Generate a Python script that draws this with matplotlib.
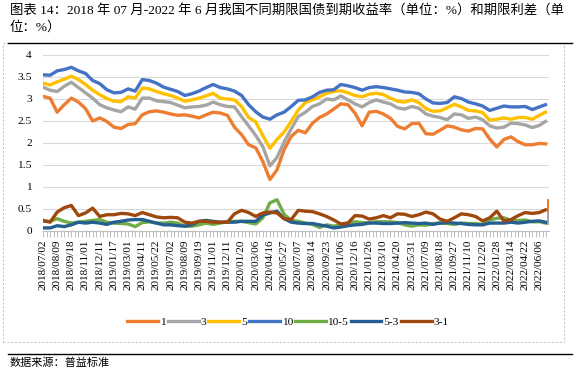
import matplotlib
matplotlib.use("Agg")
import matplotlib.pyplot as plt
from matplotlib.patches import Rectangle
from matplotlib.lines import Line2D

# ---------------------------------------------------------------------------
# data (trading-day index, yields and spreads in %)
DAYS = list(range(0, 981, 14)) + [992]

Y1 = [3.06, 3.02, 2.70, 2.87, 3.02, 2.93, 2.78, 2.50, 2.57, 2.49, 2.36, 2.33,
      2.42, 2.44, 2.64, 2.71, 2.73, 2.70, 2.66, 2.63, 2.64, 2.61, 2.57, 2.64, 2.70,
      2.68, 2.63, 2.36, 2.19, 1.96, 1.89, 1.58, 1.17, 1.39, 1.85, 2.15, 2.29,
      2.23, 2.45, 2.58, 2.66, 2.77, 2.89, 2.87, 2.68, 2.39, 2.70, 2.72, 2.66,
      2.56, 2.38, 2.32, 2.44, 2.45, 2.21, 2.20, 2.29, 2.39, 2.36, 2.30, 2.27,
      2.33, 2.32, 2.09, 1.91, 2.08, 2.14, 2.03, 1.96, 1.96, 1.99, 1.98]
Y3 = [3.27, 3.20, 3.17, 3.29, 3.38, 3.26, 3.14, 3.02, 2.87, 2.80, 2.75, 2.71,
      2.82, 2.77, 3.02, 3.02, 2.96, 2.94, 2.92, 2.86, 2.80, 2.82, 2.83, 2.86, 2.93,
      2.87, 2.83, 2.82, 2.60, 2.39, 2.17, 1.92, 1.48, 1.67, 2.02, 2.32, 2.60,
      2.70, 2.83, 2.89, 3.00, 2.98, 3.07, 2.98, 2.89, 2.82, 2.92, 2.98, 2.93,
      2.89, 2.80, 2.77, 2.83, 2.79, 2.66, 2.61, 2.58, 2.53, 2.66, 2.64, 2.56,
      2.59, 2.53, 2.39, 2.34, 2.36, 2.45, 2.44, 2.41, 2.35, 2.40, 2.49]
Y5 = [3.36, 3.32, 3.39, 3.45, 3.52, 3.44, 3.33, 3.20, 3.10, 3.01, 2.95, 2.94,
      3.05, 3.02, 3.25, 3.23, 3.17, 3.12, 3.08, 3.02, 2.95, 2.98, 3.02, 3.07, 3.13,
      3.02, 3.00, 2.98, 2.83, 2.58, 2.48, 2.17, 1.88, 2.08, 2.25, 2.49, 2.75,
      2.92, 2.98, 3.05, 3.13, 3.17, 3.19, 3.14, 3.08, 3.05, 3.11, 3.13, 3.10,
      3.02, 2.95, 2.93, 2.98, 2.92, 2.78, 2.72, 2.73, 2.80, 2.88, 2.82, 2.74,
      2.73, 2.69, 2.52, 2.54, 2.57, 2.54, 2.58, 2.58, 2.54, 2.63, 2.70]
Y10 = [3.55, 3.54, 3.64, 3.67, 3.72, 3.64, 3.58, 3.42, 3.35, 3.21, 3.14, 3.15,
       3.23, 3.18, 3.44, 3.42, 3.36, 3.27, 3.22, 3.17, 3.08, 3.12, 3.18, 3.26, 3.33,
       3.26, 3.23, 3.18, 3.08, 2.87, 2.71, 2.59, 2.54, 2.64, 2.70, 2.83, 2.97,
       2.98, 3.05, 3.15, 3.20, 3.21, 3.33, 3.30, 3.26, 3.20, 3.26, 3.28, 3.26,
       3.23, 3.20, 3.16, 3.15, 3.12, 3.00, 2.91, 2.90, 2.92, 3.05, 3.01, 2.93,
       2.89, 2.84, 2.74, 2.79, 2.84, 2.82, 2.82, 2.83, 2.76, 2.82, 2.87]
S10_5 = [0.22, 0.22, 0.28, 0.22, 0.18, 0.20, 0.22, 0.24, 0.26, 0.20, 0.18, 0.17,
         0.16, 0.10, 0.19, 0.21, 0.18, 0.18, 0.20, 0.18, 0.11, 0.11, 0.14, 0.18, 0.15,
         0.18, 0.21, 0.22, 0.22, 0.19, 0.16, 0.30, 0.64, 0.71, 0.38, 0.24, 0.22,
         0.18, 0.15, 0.08, 0.14, 0.11, 0.14, 0.18, 0.21, 0.19, 0.19, 0.21, 0.21,
         0.21, 0.19, 0.14, 0.11, 0.14, 0.13, 0.17, 0.18, 0.17, 0.15, 0.18, 0.17,
         0.17, 0.15, 0.25, 0.29, 0.30, 0.24, 0.24, 0.25, 0.21, 0.21, 0.18]
S5_3 = [0.07, 0.07, 0.12, 0.10, 0.14, 0.20, 0.18, 0.20, 0.18, 0.15, 0.20, 0.22,
        0.25, 0.26, 0.26, 0.22, 0.18, 0.14, 0.14, 0.12, 0.11, 0.14, 0.22, 0.24, 0.22,
        0.20, 0.20, 0.20, 0.22, 0.22, 0.22, 0.36, 0.41, 0.45, 0.28, 0.20, 0.18,
        0.17, 0.17, 0.14, 0.11, 0.07, 0.09, 0.12, 0.14, 0.15, 0.18, 0.18, 0.17,
        0.17, 0.18, 0.19, 0.18, 0.17, 0.18, 0.15, 0.18, 0.19, 0.18, 0.17, 0.15,
        0.14, 0.14, 0.18, 0.18, 0.18, 0.20, 0.18, 0.20, 0.22, 0.23, 0.20]
S3_1 = [0.24, 0.20, 0.43, 0.53, 0.58, 0.35, 0.41, 0.52, 0.33, 0.37, 0.37, 0.40,
        0.39, 0.35, 0.42, 0.37, 0.32, 0.30, 0.31, 0.30, 0.20, 0.18, 0.22, 0.22, 0.20,
        0.20, 0.20, 0.39, 0.47, 0.42, 0.33, 0.41, 0.43, 0.41, 0.28, 0.26, 0.47,
        0.45, 0.44, 0.39, 0.33, 0.25, 0.16, 0.18, 0.35, 0.34, 0.27, 0.30, 0.35,
        0.30, 0.39, 0.38, 0.33, 0.37, 0.43, 0.39, 0.27, 0.22, 0.30, 0.39, 0.37,
        0.33, 0.23, 0.30, 0.45, 0.23, 0.26, 0.35, 0.42, 0.40, 0.42, 0.48]

# stray column at the very end of the reference chart
END_DAY = 997
END_GRAY = (0.14, 0.45)
END_ORANGE = (0.45, 0.73)

TICK_LABELS = [
    "2018/07/02", "2018/08/09", "2018/09/18", "2018/11/01", "2018/12/11",
    "2019/01/17", "2019/03/01", "2019/04/11", "2019/05/22", "2019/07/02",
    "2019/08/09", "2019/09/19", "2019/11/01", "2019/12/11", "2020/01/20",
    "2020/03/06", "2020/04/16", "2020/05/27", "2020/07/07", "2020/08/14",
    "2020/09/23", "2020/11/06", "2020/12/16", "2021/01/26", "2021/03/10",
    "2021/04/20", "2021/05/31", "2021/07/09", "2021/08/18", "2021/09/27",
    "2021/11/10", "2021/12/20", "2022/01/28", "2022/03/14", "2022/04/22",
    "2022/06/06",
]
TICK_STEP = 28
# ---------------------------------------------------------------------------

SERIES = [("1", Y1, "#ED7D31"), ("3", Y3, "#A5A5A5"), ("5", Y5, "#FFC000"),
          ("10", Y10, "#4472C4"), ("10-5", S10_5, "#70AD47"),
          ("5-3", S5_3, "#255E91"), ("3-1", S3_1, "#9E480E")]

SERIF = ["Liberation Serif", "Noto Sans CJK SC"]
CJK = ["Liberation Serif", "Noto Sans CJK SC"]

W, H = 578, 373
fig = plt.figure(figsize=(W / 100, H / 100), dpi=100)

def fx(px):
    return px / W

def fy(py):
    return 1 - py / H

# title + rules
fig.text(fx(10), fy(4),
         "图表 14：2018 年 07 月-2022 年 6 月我国不同期限国债到期收益率（单位：%）和期限利差（单\n位：%）",
         family=CJK, fontsize=9.6, va="top", ha="left", linespacing=1.45)
fig.add_artist(Line2D([fx(8), fx(572)], [fy(43), fy(43)], color="black", lw=1.0))
fig.add_artist(Rectangle((fx(3), fy(342)), fx(561), (342 - 43) / H, fill=False,
                         ec="#BFBFBF", lw=0.7, ls=(0, (2, 2))))
fig.add_artist(Line2D([fx(8), fx(572)], [fy(354), fy(354)], color="black", lw=1.0))
fig.text(fx(10), fy(363), "数据来源：普益标准", family=CJK, fontsize=8,
         va="center", ha="left")

ax = fig.add_axes([fx(43), fy(231), fx(549 - 43), (231 - 55) / H])

for name, vals, color in SERIES:
    ax.plot(DAYS, vals, color=color, lw=2.4, label=name, solid_joinstyle="round")

ax.bar([END_DAY], [END_GRAY[1] - END_GRAY[0]], bottom=[END_GRAY[0]], width=5,
       color="#A5A5A5", clip_on=False)
ax.bar([END_DAY], [END_ORANGE[1] - END_ORANGE[0]], bottom=[END_ORANGE[0]], width=5,
       color="#ED7D31", clip_on=False)

ax.set_xlim(0, 999)
ax.set_ylim(0, 4)
ax.set_yticks([0, 0.5, 1, 1.5, 2, 2.5, 3, 3.5, 4])
ax.set_yticklabels(["0", "0.5", "1", "1.5", "2", "2.5", "3", "3.5", "4"],
                   family=SERIF, fontsize=8.2)
ax.grid(axis="y", color="#D9D9D9", lw=0.8)
ax.set_axisbelow(True)
ax.tick_params(axis="y", length=0, pad=8)

ax.set_xticks([TICK_STEP * i for i in range(len(TICK_LABELS))])
ax.set_xticklabels(TICK_LABELS, rotation=90, family=SERIF, fontsize=8)
ax.set_xticks(range(0, 1000, 7), minor=True)
ax.tick_params(axis="x", which="both", length=4, color="#BFBFBF", width=0.7, pad=2)

for side in ["left", "right", "top"]:
    ax.spines[side].set_visible(False)
ax.spines["bottom"].set_color("#BFBFBF")
ax.spines["bottom"].set_linewidth(0.8)

fig.legend(loc="center", bbox_to_anchor=(fx(288), fy(322)), ncol=7, frameon=False,
           prop={"family": SERIF, "size": 8.2}, handlelength=2.7, handletextpad=0.15,
           columnspacing=0.2, borderpad=0)

fig.savefig("out.png", dpi=100)
